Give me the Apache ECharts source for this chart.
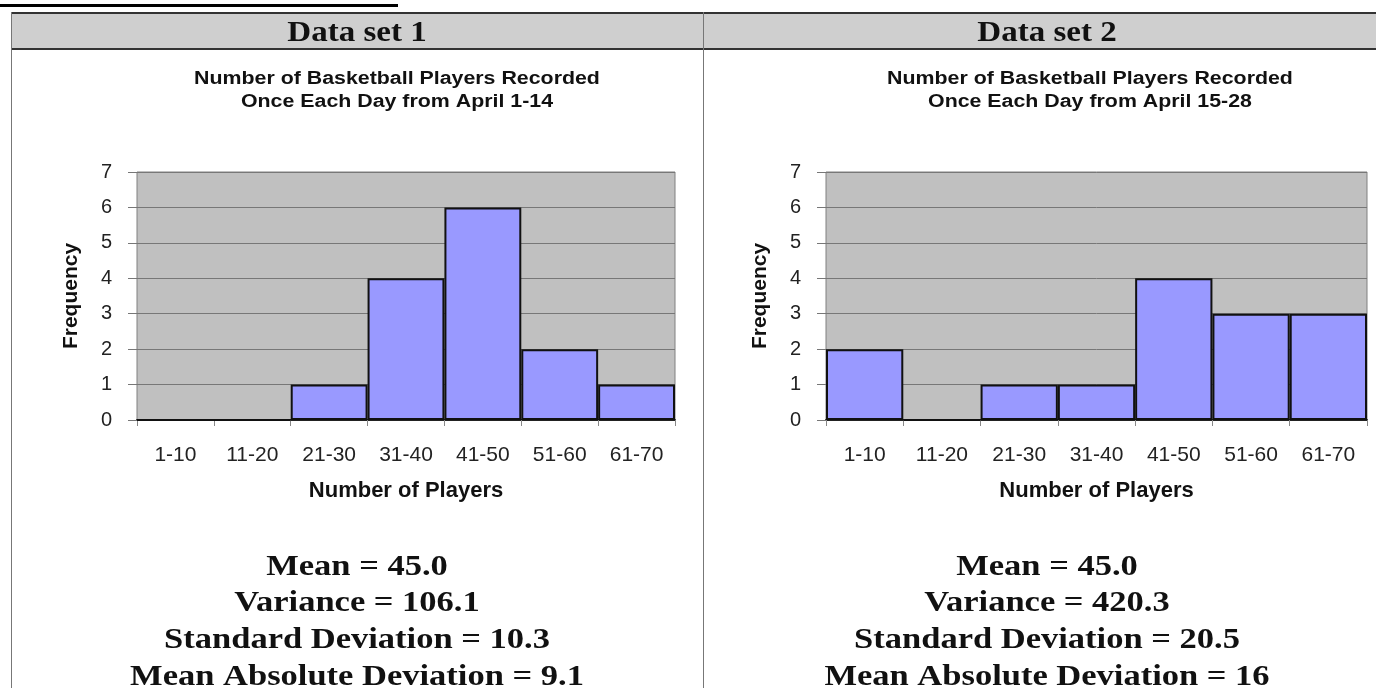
<!DOCTYPE html>
<html>
<head>
<meta charset="utf-8">
<script src="https://cdn.jsdelivr.net/npm/echarts@6/dist/echarts.min.js"></script>
<style>
  html, body { margin: 0; padding: 0; background: #fff; }
  #main { width: 1376px; height: 688px; }
</style>
</head>
<body>
<div id="main"></div>
<script>
// bins and counts
var bins = ['1-10', '11-20', '21-30', '31-40', '41-50', '51-60', '61-70'];
var counts1 = [0, 0, 1, 4, 6, 2, 1];
var counts2 = [2, 0, 1, 1, 4, 3, 3];
var headers = ['Data set 1', 'Data set 2'];
var titles1 = ['Number of Basketball Players Recorded', 'Once Each Day from April 1-14'];
var titles2 = ['Number of Basketball Players Recorded', 'Once Each Day from April 15-28'];
var stats1 = ['Mean = 45.0', 'Variance = 106.1', 'Standard Deviation = 10.3', 'Mean Absolute Deviation = 9.1'];
var stats2 = ['Mean = 45.0', 'Variance = 420.3', 'Standard Deviation = 20.5', 'Mean Absolute Deviation = 16'];

var dom = document.getElementById('main');
var myChart = echarts.init(dom);

var serif = "'Liberation Serif', 'DejaVu Serif', serif";
var sans = "'Liberation Sans', Arial, sans-serif";

function xAxis(idx) {
  return {
    type: 'category',
    gridIndex: idx,
    data: bins,
    boundaryGap: true,
    name: 'Number of Players',
    nameLocation: 'middle',
    nameGap: 60,
    nameTextStyle: { fontFamily: sans, fontSize: 22, fontWeight: 'bold', color: '#111' },
    axisLine: { lineStyle: { color: '#222', width: 2 } },
    axisTick: { show: true, length: 6, lineStyle: { color: '#888' } },
    axisLabel: { fontFamily: sans, fontSize: 21, color: '#222', margin: 25, interval: 0 }
  };
}

function yAxis(idx) {
  return {
    type: 'value',
    gridIndex: idx,
    min: 0,
    max: 7,
    interval: 1,
    name: 'Frequency',
    nameLocation: 'middle',
    nameGap: 55,
    nameTextStyle: { fontFamily: sans, fontSize: 21, fontWeight: 'bold', color: '#111' },
    axisLine: { show: false },
    axisTick: { show: true, length: 9, lineStyle: { color: '#777' } },
    axisLabel: { fontFamily: sans, fontSize: 20, color: '#222', margin: 25 },
    splitLine: { show: true, lineStyle: { color: '#777', width: 1 } }
  };
}

function barSeries(idx, data) {
  return {
    type: 'bar',
    xAxisIndex: idx,
    yAxisIndex: idx,
    data: data,
    barWidth: '100%',
    barCategoryGap: 0,
    itemStyle: { color: '#9999ff', borderColor: '#111', borderWidth: 2 },
    silent: true
  };
}

// centred text lines, a little wider than the fonts draw them (the scan is stretched)
function textLines(cx, y0, step, lines, font, size, sx) {
  return lines.map(function (t, i) {
    return {
      type: 'text',
      x: cx,
      y: y0 + i * step,
      scaleX: sx,
      style: {
        text: t,
        fontFamily: font,
        fontSize: size,
        fontWeight: 'bold',
        fill: '#111',
        align: 'center',
        verticalAlign: 'middle'
      }
    };
  });
}

var graphics = [
  // cut-off underline at the very top
  { type: 'rect', shape: { x: 0, y: 4, width: 398, height: 3 }, style: { fill: '#000' } },
  // header band
  { type: 'rect', shape: { x: 11, y: 13, width: 1365, height: 36 }, style: { fill: '#cfcfcf' } },
  { type: 'line', shape: { x1: 11, y1: 13, x2: 1376, y2: 13 }, style: { stroke: '#333', lineWidth: 2 } },
  { type: 'line', shape: { x1: 11, y1: 49, x2: 1376, y2: 49 }, style: { stroke: '#333', lineWidth: 2 } },
  { type: 'line', shape: { x1: 11.5, y1: 12, x2: 11.5, y2: 688 }, style: { stroke: '#777', lineWidth: 1 } },
  { type: 'line', shape: { x1: 703.5, y1: 12, x2: 703.5, y2: 688 }, style: { stroke: '#777', lineWidth: 1 } }
]
  .concat(textLines(357, 33, 0, [headers[0]], serif, 30, 1.1))
  .concat(textLines(1047, 33, 0, [headers[1]], serif, 30, 1.1))
  .concat(textLines(397, 79, 23, titles1, sans, 17.5, 1.22))
  .concat(textLines(1090, 79, 23, titles2, sans, 17.5, 1.22))
  .concat(textLines(357, 567, 36.7, stats1, serif, 30, 1.15))
  .concat(textLines(1047, 567, 36.7, stats2, serif, 30, 1.15));

option = {
  animation: false,
  grid: [
    { left: 137, top: 172, width: 538, height: 248, show: true, backgroundColor: '#c0c0c0', borderColor: '#808080', borderWidth: 1 },
    { left: 826, top: 172, width: 541, height: 248, show: true, backgroundColor: '#c0c0c0', borderColor: '#808080', borderWidth: 1 }
  ],
  xAxis: [xAxis(0), xAxis(1)],
  yAxis: [yAxis(0), yAxis(1)],
  series: [barSeries(0, counts1), barSeries(1, counts2)],
  graphic: graphics
};

if (option && typeof option === 'object') {
  myChart.setOption(option, true);
}
</script>
</body>
</html>
